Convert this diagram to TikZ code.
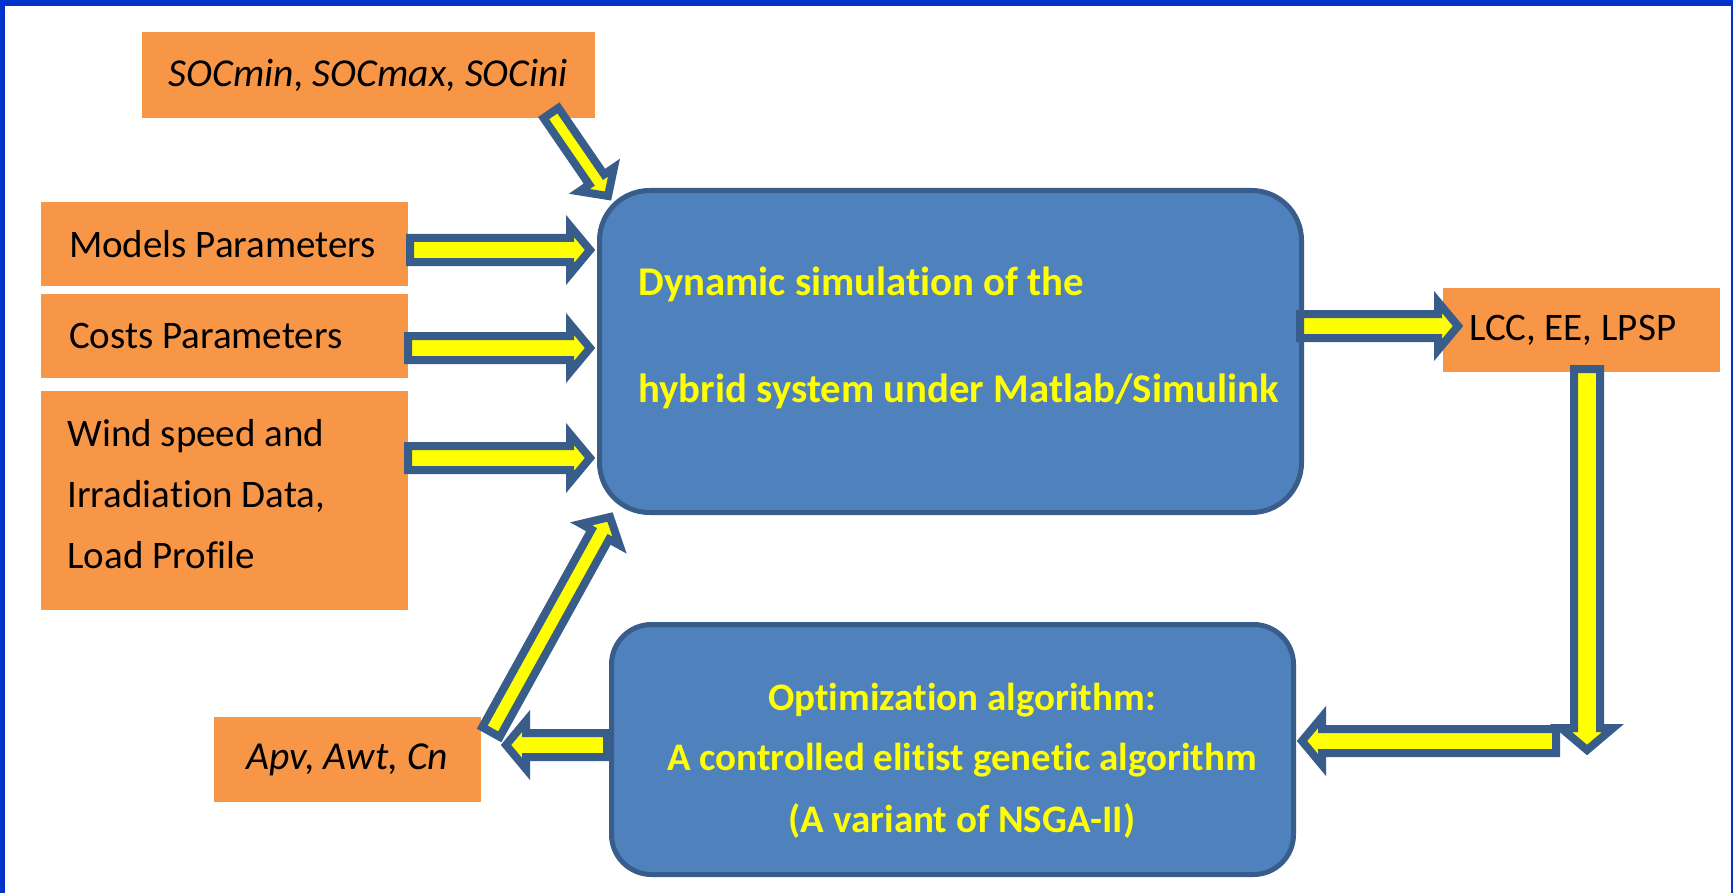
\documentclass[tikz,border=0pt]{standalone}
\usepackage{fontspec}
\setmainfont{Carlito}[Ligatures=NoCommon]
\usetikzlibrary{calc}
\definecolor{orangebox}{HTML}{F79646}
\definecolor{bluefill}{HTML}{4F81BD}
\definecolor{blueline}{HTML}{385D8A}
\definecolor{frameblue}{HTML}{0033CC}
\definecolor{arrowyellow}{HTML}{FFFF00}
\tikzset{
  inbox/.style={fill=orangebox, draw=none, inner sep=0pt, text=black,
    font=\fontsize{19.5}{30.5}\selectfont},
  initbox/.style={inbox, font=\fontsize{19.8}{30.5}\selectfont\itshape},
  blacktext/.style={inner sep=0pt, text=black, align=left,
    font=\fontsize{19.5}{30.5}\selectfont},
  procbox/.style={fill=bluefill, draw=blueline, line width=2.5pt,
    rounded corners=#1, inner sep=0pt},
  yeltext/.style={text=arrowyellow, inner sep=0pt,
    font=\fontsize{19.5}{30.5}\selectfont\bfseries},
  bigyeltext/.style={yeltext, font=\fontsize{20.4}{30.5}\selectfont\bfseries},
  barrow/.style n args={3}{draw=blueline, fill=arrowyellow, line width=4pt,
    line join=miter,
    to path={ -- ($(\tikztostart)!#1!90:(\tikztotarget)$)
      -- ($(\tikztotarget)!#3!(\tikztostart)!#1!90:(\tikztotarget)$)
      -- ($(\tikztotarget)!#3!(\tikztostart)!#2!90:(\tikztotarget)$)
      -- (\tikztotarget)
      -- ($(\tikztotarget)!#3!(\tikztostart)!#2!-90:(\tikztotarget)$)
      -- ($(\tikztotarget)!#3!(\tikztostart)!#1!-90:(\tikztotarget)$)
      -- ($(\tikztostart)!#1!-90:(\tikztotarget)$)
      -- cycle}},
}
\begin{document}
\begin{tikzpicture}[x=0.5pt, y=-0.5pt]
\useasboundingbox (0,0) rectangle (1733,893);
\fill[white] (0,0) rectangle (1733,893);
\fill[frameblue] (0,0) rectangle (1733,6);
\fill[frameblue] (0,0) rectangle (5,893);
\fill[frameblue] (1731,0) rectangle (1733,893);

% input / output boxes
\node[initbox, minimum width=226.5pt, minimum height=43pt] (soc) at (368.5,75) {SOCmin, SOCmax, SOCini};
\node[inbox, inner xsep=14pt, minimum height=42pt] (models) at (224.5,244) {\makebox[155.5pt][l]{Models Parameters}};
\node[inbox, inner xsep=14pt, minimum height=42pt] (costs) at (224.5,336) {\makebox[155.5pt][l]{Costs Parameters}};
\node[inbox, minimum width=183.5pt, minimum height=109.5pt] (wind) at (224.5,500.5) {};
\node[blacktext, anchor=west] (windtext) at (67,494) {Wind speed and\\Irradiation Data,\\Load Profile};
\node[inbox, inner xsep=13pt, minimum height=42pt] (lcc) at (1581.5,330) {\makebox[112.5pt][l]{LCC, EE, LPSP}};
\node[initbox, minimum width=133.5pt, minimum height=42.5pt] (apv) at (347.5,759.5) {Apv, Awt, Cn};

% process boxes
\node[procbox=25pt, minimum width=351pt, minimum height=161pt] (main) at (950.5,351.5) {};
\node[bigyeltext, anchor=base west] (mainA) at (638,295) {Dynamic simulation of the};
\node[bigyeltext, anchor=base west] (mainB) at (638,402) {hybrid system under Matlab/Simulink};

\node[procbox=20pt, minimum width=341pt, minimum height=125pt] (opt) at (952.5,749.5) {};
\node[yeltext, anchor=base] (optA) at (962,710) {Optimization algorithm:};
\node[yeltext, anchor=base] (optB) at (962,770) {A controlled elitist genetic algorithm};
\node[yeltext, anchor=base] (optC) at (962,832) {(A variant of NSGA-II)};

% arrow end points
\coordinate (a1s) at (410,250);  \coordinate (a1e) at (590,250);
\coordinate (a2s) at (408,348);  \coordinate (a2e) at (590,348);
\coordinate (a3s) at (408,458);  \coordinate (a3e) at (590,458);
\coordinate (a4s) at (1300,326); \coordinate (a4e) at (1458,326);
\coordinate (a5s) at (1587,369); \coordinate (a5e) at (1587,750);
\coordinate (a6s) at (1556,741); \coordinate (a6e) at (1302,741);
\coordinate (a7s) at (607,745);  \coordinate (a7e) at (506,745);
\coordinate (a8s) at (491,732);  \coordinate (a8e) at (610,517);
\coordinate (a9s) at (551,113);  \coordinate (a9e) at (608,196);

% block arrows
\path[barrow={4.5pt}{10.5pt}{10pt}] (a9s) to (a9e);
\path[barrow={6pt}{12pt}{10pt}] (a1s) to (a1e);
\path[barrow={6pt}{12pt}{10pt}] (a2s) to (a2e);
\path[barrow={6pt}{12pt}{10pt}] (a3s) to (a3e);
\path[barrow={6pt}{12pt}{10pt}] (a4s) to (a4e);
\path[barrow={6.5pt}{13pt}{11pt}] (a5s) to (a5e);
\path[barrow={6pt}{12pt}{10pt}] (a6s) to (a6e);
\path[barrow={6pt}{12pt}{10pt}] (a7s) to (a7e);
\path[barrow={5pt}{11pt}{10pt}] (a8s) to (a8e);
\end{tikzpicture}
\end{document}
